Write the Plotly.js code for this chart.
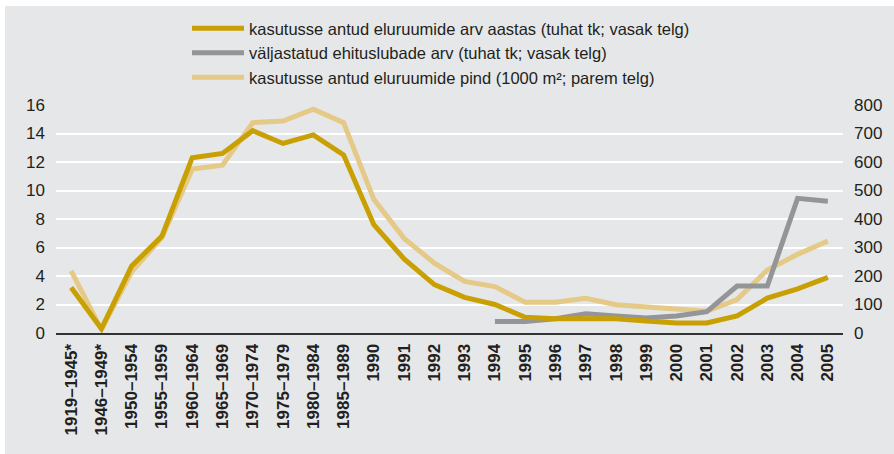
<!DOCTYPE html>
<html><head><meta charset="utf-8">
<script src="https://cdn.plot.ly/plotly-3.0.1.min.js"></script>
<style>
html,body{margin:0;padding:0;background:#fff;}
#bg{position:absolute;left:5px;top:6px;width:889px;height:448px;background:#e6e7e8;}
#chart{position:absolute;left:0;top:0;width:894px;height:454px;}
</style></head><body>
<div id="bg"></div><div id="chart"></div>
<script>
const categories = ['1919–1945*','1946–1949*','1950–1954','1955–1959','1960–1964','1965–1969','1970–1974','1975–1979','1980–1984','1985–1989','1990','1991','1992','1993','1994','1995','1996','1997','1998','1999','2000','2001','2002','2003','2004','2005'];
const arvAastas = [3.2, 0.3, 4.7, 6.8, 12.3, 12.6, 14.2, 13.3, 13.9, 12.5, 7.6, 5.2, 3.4, 2.5, 2.0, 1.1, 1.0, 1.0, 1.0, 0.85, 0.7, 0.7, 1.2, 2.45, 3.1, 3.9];
const ehituslubadeArv = [null, null, null, null, null, null, null, null, null, null, null, null, null, null, 0.8, 0.8, 1.0, 1.35, 1.2, 1.05, 1.2, 1.5, 3.3, 3.3, 9.45, 9.25];
const pind = [218, 12, 215, 335, 575, 589, 738, 744, 785, 738, 469, 332, 245, 181, 163, 108, 108, 122, 99, 91, 84, 76, 117, 221, 276, 323];
const seriesNames = ['kasutusse antud eluruumide arv aastas (tuhat tk; vasak telg)', 'väljastatud ehituslubade arv (tuhat tk; vasak telg)', 'kasutusse antud eluruumide pind (1000 m²; parem telg)'];
const leftTicks = [0, 2, 4, 6, 8, 10, 12, 14, 16];
const rightTicks = [0, 100, 200, 300, 400, 500, 600, 700, 800];

const traces = [
  {x: categories, y: pind, name: seriesNames[2], yaxis: 'y', type: 'scatter', mode: 'lines',
   line: {color: '#e5c987', width: 5}, legendrank: 3, hoverinfo: 'skip'},
  {x: categories, y: ehituslubadeArv, name: seriesNames[1], yaxis: 'y2', type: 'scatter', mode: 'lines',
   line: {color: '#949599', width: 5}, legendrank: 2, hoverinfo: 'skip'},
  {x: categories, y: arvAastas, name: seriesNames[0], yaxis: 'y2', type: 'scatter', mode: 'lines',
   line: {color: '#c9a004', width: 5}, legendrank: 1, hoverinfo: 'skip'}
];

const layout = {
  width: 894, height: 454,
  paper_bgcolor: 'rgba(0,0,0,0)', plot_bgcolor: 'rgba(0,0,0,0)',
  margin: {l: 56, r: 51, t: 105, b: 121, pad: 0, autoexpand: false},
  font: {family: 'Liberation Sans, Arial, sans-serif', color: '#231f20', size: 17},
  showlegend: true,
  legend: {xref: 'container', yref: 'container', x: 187/894, y: 1 - 11/454, xanchor: 'left', yanchor: 'top',
           bgcolor: 'rgba(0,0,0,0)', borderwidth: 0, font: {size: 16.5, color: '#231f20'},
           traceorder: 'normal', itemwidth: 52, tracegroupgap: 0},
  xaxis: {type: 'category', range: [-0.5, 25.5], tickangle: -90, tickmode: 'array', tickvals: categories, ticktext: categories,
          tickfont: {size: 17, weight: 'bold', color: '#231f20'}, automargin: false,
          showgrid: false, showline: true, linecolor: '#333333', linewidth: 2, ticks: '',
          ticklabelstandoff: 2, fixedrange: true},
  yaxis: {side: 'right', range: [0, 800], tickvals: rightTicks, showgrid: true, gridcolor: '#ffffff', gridwidth: 2,
          zeroline: false, ticks: '', ticklabelstandoff: 10, showline: false, fixedrange: true, automargin: false},
  yaxis2: {side: 'left', overlaying: 'y', range: [0, 16], tickvals: leftTicks, showgrid: false,
           zeroline: false, ticks: '', ticklabelstandoff: 10, showline: false, fixedrange: true, automargin: false}
};

Plotly.newPlot('chart', traces, layout, {displayModeBar: false, staticPlot: true});
</script>
</body></html>
